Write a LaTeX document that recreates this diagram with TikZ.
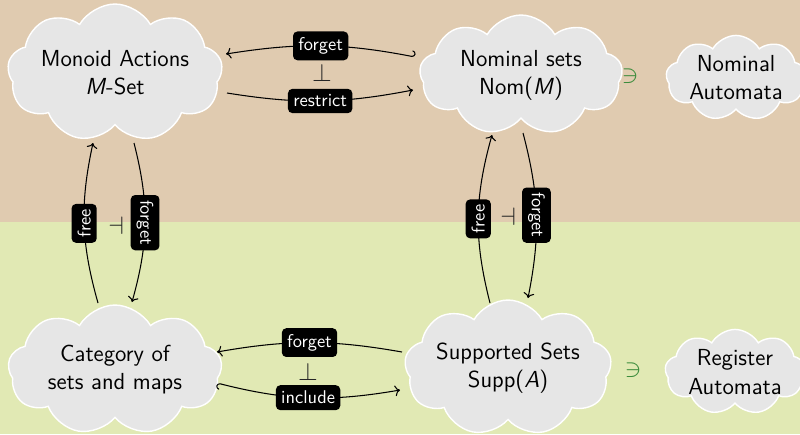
\documentclass[tikz,border=0pt]{standalone}
\usetikzlibrary{shapes.symbols,calc,arrows,arrows.meta}
\definecolor{topbg}{RGB}{224,203,176}
\definecolor{botbg}{RGB}{225,233,180}
\definecolor{cloudfill}{RGB}{230,230,230}
\definecolor{memb}{RGB}{60,140,60}
\tikzset{
  cat/.style={cloud, cloud puffs=9, cloud puff arc=120, cloud ignores aspect,
    fill=cloudfill, draw=white, line width=0.8pt, align=center,
    font=\sffamily\fontsize{13.2}{16}\selectfont, inner sep=0pt},
  lab/.style={fill=black, text=white, rounded corners=2.5pt,
    inner xsep=3pt, inner ysep=3.4pt,
    font=\sffamily\fontsize{10.5}{12}\selectfont},
  fun/.style={line width=0.6pt, ->},
  sym/.style={font=\Large, text=black!85},
}
\begin{document}
\begin{tikzpicture}[x=0.02cm, y=-0.02cm]
  % two coloured bands
  \fill[topbg] (0,0) rectangle (800,222);
  \fill[botbg] (0,222) rectangle (800,434);
  \useasboundingbox (0,0) rectangle (800,434);

  % categories
  \node[cat, minimum width=4.3cm, minimum height=2.76cm] (ms) at (115,73)
    {Monoid Actions\\\textit{M}-Set};
  \node[cat, minimum width=4.06cm, minimum height=2.4cm] (ns) at (521,75)
    {Nominal sets\\Nom(\textit{M})};
  \node[cat, minimum width=2.8cm, minimum height=1.64cm] (na) at (736,78)
    {Nominal\\Automata};
  \node[cat, minimum width=4.28cm, minimum height=2.6cm] (cs) at (115,370)
    {Category of\\sets and maps};
  \node[cat, minimum width=4.14cm, minimum height=2.72cm] (ss) at (508,368)
    {Supported Sets\\Supp(\textit{A})};
  \node[cat, minimum width=2.8cm, minimum height=1.6cm] (ra) at (735,372)
    {Register\\Automata};

  % membership signs
  \node[sym, text=memb] (m1) at (630,76) {$\ni$};
  \node[sym, text=memb] (m2) at (633,370) {$\ni$};

  % top adjunction
  \draw[fun, left hook->] ($(ns)+(-106,-18)$) to[bend right=10]
    node[lab] {forget} ($(ms)+(111,-19)$);
  \draw[fun] ($(ms)+(112,20)$) to[bend right=10]
    node[lab] {restrict} ($(ns)+(-108,15)$);
  \node[sym] (adjt) at (322,73) {$\perp$};

  % left adjunction
  \draw[fun] ($(cs)+(-17,-67)$) to[bend left=14]
    node[lab, rotate=90] {free} ($(ms)+(-22,70)$);
  \draw[fun] ($(ms)+(19,70)$) to[bend left=15]
    node[lab, rotate=-90] {forget} ($(cs)+(17,-68)$);
  \node[sym] (adjl) at (116,226) {$\dashv$};

  % right adjunction
  \draw[fun] ($(ss)+(-18,-65)$) to[bend left=15]
    node[lab, rotate=90] {free} ($(ns)+(-29,60)$);
  \draw[fun] ($(ns)+(2,58)$) to[bend left=13]
    node[lab, rotate=-90] {forget} ($(ss)+(20,-70)$);
  \node[sym] (adjr) at (508,217) {$\dashv$};

  % bottom adjunction
  \draw[fun] ($(ss)+(-106,-16)$) to[bend right=10]
    node[lab] {forget} ($(cs)+(102,-18)$);
  \draw[fun, left hook->] ($(cs)+(102,13)$) to[bend right=12]
    node[lab] {include} ($(ss)+(-108,22)$);
  \node[sym] (adjb) at (308,372) {$\perp$};
\end{tikzpicture}
\end{document}
